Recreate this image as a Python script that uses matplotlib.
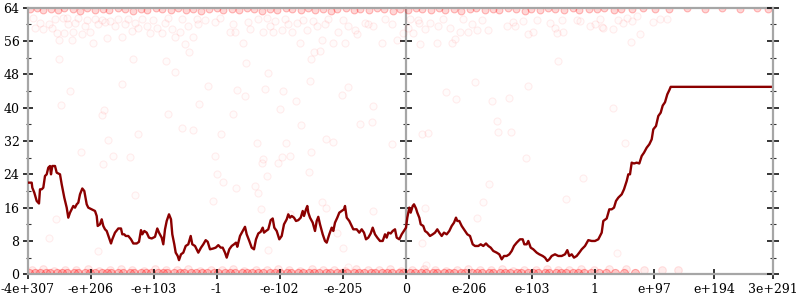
import matplotlib
matplotlib.use("Agg")
import matplotlib.pyplot as plt
from matplotlib.ticker import MultipleLocator

# ---- axis ticks (x in "bit-position" units, 0 = zero) ----
xtick_pos = [-378, -315, -252, -189, -126, -63, 0, 63, 126, 189, 248.6, 308.6, 367.6]
xtick_labels = ["-4e+307", "-e+206", "-e+103", "-1", "-e-102", "-e-205", "0",
                "e-206", "e-103", "1", "e+97", "e+194", "3e+291"]

# ---- running line ----
line_x = [-378.0, -374.0, -373.4, -371.4, -369.0, -366.7, -365.7, -364.0, -362.4, -360.7,
          -359.0, -357.4, -355.7, -354.7, -353.4, -350.7, -349.0, -345.7, -344.0, -341.4,
          -339.0, -337.4, -335.7, -334.0, -332.4, -330.7, -329.0, -327.4, -325.7, -323.4,
          -321.4, -319.0, -317.4, -314.0, -310.7, -309.0, -308.0, -305.7, -304.0, -302.4,
          -300.7, -299.0, -296.7, -294.7, -293.4, -290.7, -287.4, -284.7, -283.4, -281.4,
          -280.0, -277.4, -274.7, -272.4, -269.0, -266.7, -264.7, -263.4, -261.4, -259.0,
          -256.7, -254.0, -250.7, -248.4, -246.7, -244.0, -242.4, -240.7, -239.0, -236.7,
          -234.7, -233.4, -231.4, -230.0, -228.0, -226.7, -224.7, -222.4, -220.0, -217.4,
          -215.0, -213.4, -210.7, -207.4, -204.7, -202.4, -200.0, -198.0, -195.7, -192.4,
          -190.0, -187.4, -185.0, -183.0, -180.7, -179.0, -176.4, -174.0, -171.7, -169.7,
          -168.4, -165.7, -163.0, -160.7, -159.0, -156.4, -154.0, -151.7, -149.7, -147.4,
          -145.0, -143.0, -141.7, -139.7, -137.4, -135.0, -133.0, -131.4, -129.0, -126.4,
          -124.0, -121.7, -119.0, -117.4, -115.7, -114.0, -111.7, -109.7, -107.4, -105.0,
          -103.0, -101.7, -99.7, -98.4, -97.4, -95.7, -93.0, -90.7, -89.0, -87.4,
          -85.7, -83.0, -80.7, -79.0, -76.4, -74.0, -72.4, -70.7, -68.4, -66.4,
          -64.0, -61.7, -60.7, -59.0, -56.4, -54.0, -52.4, -49.0, -46.4, -44.0,
          -41.7, -39.7, -37.4, -35.0, -33.0, -30.7, -28.4, -25.7, -23.0, -20.7,
          -19.0, -17.4, -15.0, -13.0, -10.7, -9.0, -6.4, -4.0, -2.4, 0.3,
          1.6, 3.6, 5.0, 7.0, 8.3, 10.3, 11.6, 13.6, 15.0, 17.6,
          19.3, 21.6, 24.3, 27.0, 29.3, 31.6, 33.6, 36.0, 38.3, 41.0,
          43.6, 46.0, 48.3, 50.3, 51.6, 53.6, 56.0, 59.3, 61.6, 64.3,
          67.0, 69.3, 72.6, 75.0, 77.6, 80.3, 82.6, 85.0, 87.6, 91.0,
          93.6, 96.0, 98.3, 101.0, 103.6, 106.0, 108.3, 111.0, 114.3, 117.0,
          118.6, 121.0, 122.6, 125.0, 127.6, 131.0, 133.6, 137.0, 139.3, 141.6,
          143.6, 146.0, 149.3, 152.6, 156.0, 159.3, 161.6, 163.6, 166.0, 168.3,
          171.0, 173.6, 176.0, 179.3, 182.6, 186.0, 189.3, 192.6, 196.0, 197.6,
          201.0, 203.6, 206.0, 208.3, 210.3, 212.6, 216.0, 218.3, 221.0, 222.6,
          224.3, 226.0, 228.3, 231.0, 233.6, 236.0, 238.3, 241.0, 243.6, 246.0,
          247.6, 250.3, 252.6, 255.0, 257.0, 259.3, 261.6, 263.6, 265.0, 367.6]
line_y = [22.0, 22.0, 20.8, 19.6, 17.6, 17.0, 20.4, 20.4, 20.8, 23.6,
          24.0, 25.6, 26.0, 24.0, 26.0, 26.0, 24.4, 24.0, 21.6, 18.4,
          16.0, 13.6, 14.8, 15.6, 16.4, 16.0, 16.8, 17.2, 19.2, 20.6,
          20.0, 16.8, 16.0, 15.6, 15.2, 14.0, 11.6, 12.0, 13.2, 11.6,
          10.8, 10.4, 8.8, 7.4, 8.4, 10.0, 11.0, 11.0, 9.6, 9.6,
          9.2, 9.2, 8.4, 7.4, 7.4, 7.8, 10.6, 9.6, 10.4, 10.0,
          8.8, 8.6, 9.0, 11.0, 10.0, 8.8, 7.2, 10.8, 12.8, 14.4,
          13.2, 9.6, 7.2, 5.2, 4.4, 3.4, 4.8, 5.2, 6.8, 7.2,
          9.2, 7.2, 6.8, 5.2, 6.4, 7.2, 8.2, 7.8, 6.0, 6.2,
          6.4, 7.0, 6.4, 6.4, 5.2, 4.0, 6.0, 6.8, 7.2, 7.6,
          6.6, 9.2, 10.4, 11.4, 9.6, 8.0, 6.4, 6.0, 8.4, 9.8,
          10.2, 11.2, 10.0, 10.4, 10.8, 13.0, 13.4, 11.2, 10.4, 8.4,
          9.2, 12.0, 13.2, 14.4, 13.6, 14.0, 13.6, 12.8, 13.0, 13.6,
          15.2, 14.0, 15.6, 16.4, 14.8, 13.6, 12.4, 10.4, 12.8, 13.8,
          12.0, 9.6, 8.0, 7.6, 9.6, 11.2, 10.4, 12.4, 13.6, 14.8,
          15.2, 15.6, 16.4, 13.6, 12.8, 11.6, 10.8, 10.8, 10.0, 10.8,
          10.0, 8.4, 8.8, 9.8, 11.2, 9.6, 8.8, 8.0, 8.0, 9.6,
          8.8, 10.0, 9.8, 10.4, 10.8, 8.8, 8.4, 9.6, 10.2, 11.2,
          13.6, 16.0, 14.8, 16.4, 16.8, 15.8, 14.8, 13.6, 12.0, 11.6,
          10.4, 10.0, 9.2, 9.6, 10.0, 10.8, 10.0, 9.2, 10.0, 9.6,
          10.4, 11.6, 12.4, 13.6, 12.8, 12.8, 11.6, 10.4, 9.6, 9.2,
          7.2, 6.8, 6.8, 7.2, 6.8, 7.4, 6.8, 6.4, 5.6, 5.2,
          4.8, 3.6, 4.4, 4.4, 4.8, 5.6, 6.8, 7.6, 8.4, 8.4,
          7.2, 7.2, 8.0, 6.4, 6.0, 5.2, 4.8, 4.4, 4.0, 3.2,
          3.6, 4.4, 4.8, 4.4, 4.4, 4.8, 5.8, 4.4, 4.8, 4.0,
          4.4, 5.2, 6.0, 6.8, 8.2, 8.0, 8.0, 8.4, 10.0, 12.8,
          13.4, 15.6, 15.6, 16.0, 17.6, 18.4, 19.2, 20.4, 22.4, 24.0,
          24.0, 26.8, 26.6, 26.8, 26.6, 28.4, 29.2, 30.4, 31.2, 32.4,
          34.8, 35.6, 38.0, 38.8, 40.5, 41.3, 43.2, 44.2, 45.0, 45.0]

# ---- faint sample points: row along the top ----
top_x = [-376, -369, -363, -355, -348, -342, -333, -326, -319, -311, -303, -297, -288, -281,
         -273, -265, -259, -250, -244, -235, -228, -220, -213, -205, -197, -189, -183, -174,
         -167, -159, -152, -144, -136, -129, -120, -114, -105, -98, -91, -83, -75, -69,
         -60, -52, -46, -37, -29, -22, -13, -6, 2, 10, 16, 25, 33, 39, 48, 55,
         64, 70, 79, 87, 93, 102, 110, 119, 125, 134, 142, 149, 158, 167, 173, 183,
         191, 198, 208, 215, 226, 237, 249, 263, 281, 299, 316, 334, 351, 362]
top_y = [63.6, 63.9, 63.4, 63.8, 63.5, 64.0, 63.6, 63.3, 63.9, 63.5, 63.8, 63.4, 63.9, 63.6,
         63.3, 63.8, 63.5, 64.0, 63.6, 63.4, 63.9, 63.5, 63.8, 63.3, 63.7, 64.0, 63.5, 63.8,
         63.4, 63.9, 63.6, 63.3, 63.8, 63.5, 64.0, 63.6, 63.4, 63.9, 63.5, 63.8, 63.3, 63.7,
         64.0, 63.5, 63.8, 63.4, 63.9, 63.6, 63.3, 63.8, 63.5, 64.0, 63.6, 63.4, 63.9, 63.5,
         63.8, 63.3, 63.7, 64.0, 63.5, 63.8, 63.4, 63.9, 63.6, 63.3, 63.8, 63.5, 64.0, 63.6,
         63.4, 63.9, 63.5, 63.8, 63.7, 64.0, 63.5, 63.8, 63.6, 63.9, 63.7, 63.8, 63.9, 63.8,
         63.9, 63.8, 63.9, 63.8]

# ---- faint sample points: upper cloud and sparse middle ----
cloud_x = [-373, -371, -366, -363, -357, -354, -351, -349, -347, -343, -342, -339, -338, -334,
           -333, -331, -328, -324, -321, -319, -316, -313, -311, -308, -304, -301, -299, -296,
           -291, -288, -284, -281, -278, -274, -271, -268, -264, -259, -256, -253, -249, -244,
           -241, -238, -234, -231, -226, -224, -221, -218, -213, -209, -208, -201, -191, -186,
           -176, -173, -171, -163, -158, -156, -148, -143, -139, -136, -133, -131, -124, -121,
           -118, -114, -109, -106, -103, -99, -93, -89, -84, -81, -78, -73, -68, -63,
           -61, -58, -51, -49, -41, -38, -33, -24, -21, -14, -9, -3, 2, 7,
           12, 4, 13, 14, 19, 24, 31, 32, 37, 44, 46, 49, 54, 57,
           62, 66, 71, 76, 82, 101, 107, 109, 117, 122, 127, 131, 144, 149,
           151, 156, 157, 171, 174, 184, 189, 194, 196, 207, 197, 212, 217, 221,
           226, 231, 247, 254, 261,
           -347, -336, -345, -304, -302, -284, -273, -268, -298, -240, -231, -238, -224, -213,
           -217, -207, -160, -138, -198, -169, -161, -141, -123, -110, -96, -95, -126, -173,
           -185, -149, -120, -105, -80, -73, -64, -58, -46, -34, -33, -14, -92, -86,
           40, 50, 69, 86, 103, 122, 91, 92, 105, 16, 22, 152, 207, 234, 225, 219,
           -325, -303, -293, -276, -271, -350, -357, -308, -191, -144, -143, -128, -124, -116,
           -95, -189, -139, -183, -170, -151, -97, -193, -145, -148, -80, -33, -84, -63,
           -138, -116, -69, -58, 83, 77, 71, 19, 16, 120, 177, 160, 20, 211]
cloud_y = [61.6, 59.2, 60.4, 58.9, 60.2, 59.2, 61.3, 58.0, 56.2, 61.6, 58.0, 61.6, 60.0, 56.2,
           58.1, 60.4, 61.6, 57.6, 59.7, 61.0, 58.1, 55.6, 61.2, 60.2, 61.0, 60.5, 56.8, 60.7,
           59.6, 61.2, 57.0, 60.2, 61.3, 58.3, 60.4, 59.2, 61.2, 59.6, 58.0, 61.0, 59.2, 58.0,
           60.4, 61.6, 59.0, 57.0, 58.1, 61.2, 55.2, 59.7, 57.0, 61.2, 60.0, 61.0, 60.5, 61.6,
           58.2, 60.0, 58.2, 55.6, 60.5, 58.9, 61.2, 58.1, 61.6, 59.6, 58.1, 60.7, 58.6, 61.2,
           60.0, 58.1, 60.4, 55.6, 61.0, 58.6, 60.7, 59.6, 56.3, 60.0, 61.3, 55.6, 58.1, 61.0,
           55.6, 59.6, 58.6, 57.6, 60.4, 60.0, 59.6, 55.6, 61.2, 60.2, 56.3, 58.0, 59.2, 58.0,
           61.0, 61.2, 60.4, 55.2, 58.8, 60.4, 55.6, 59.6, 61.2, 59.2, 55.6, 56.6, 58.1, 61.2,
           58.1, 60.0, 58.6, 61.0, 58.6, 59.6, 60.5, 59.6, 60.7, 57.6, 58.2, 61.0, 60.4, 59.2,
           58.0, 61.0, 58.1, 61.0, 60.7, 59.6, 60.2, 61.2, 59.4, 59.0, 59.2, 61.0, 60.4, 61.6,
           60.7, 61.9, 60.5, 61.2, 61.3,
           51.8, 43.9, 40.7, 38.2, 39.4, 45.6, 51.6, 33.6, 32.2, 51.3, 48.5, 38.4, 35.2, 34.6,
           53.3, 40.9, 50.8, 48.4, 45.2, 44.2, 42.8, 44.5, 44.1, 41.6, 46.4, 51.8, 39.8, 38.5,
           33.6, 31.6, 31.6, 35.8, 32.5, 31.7, 43.0, 45.0, 36.0, 36.5, 40.5, 31.2, 53.4, 53.5,
           43.8, 42.0, 46.1, 41.7, 42.3, 45.2, 36.8, 34.1, 34.1, 33.6, 34.0, 51.2, 40.0, 57.7,
           55.7, 31.6,
           29.3, 26.5, 28.5, 28.2, 19.0, 13.2, 8.8, 5.6, 28.4, 26.6, 27.6, 26.8, 28.2, 28.4,
           29.3, 24.0, 23.7, 22.2, 20.6, 21.3, 24.5, 17.6, 15.6, 19.4, 16.0, 15.2, 17.3, 6.4,
           5.8, 14.4, 10.0, 1.8, 21.6, 17.3, 13.6, 16.0, 7.6, 28.0, 23.2, 18.1, 2.2, 5.2]

# ---- faint sample points: dense band along the bottom (two rows) ----
band_low_x = [-377, -371, -366, -360, -356, -349, -344, -339, -332, -328, -321, -316, -311, -304,
              -299, -295, -288, -283, -276, -272, -265, -260, -255, -248, -243, -239, -232, -226,
              -222, -215, -210, -204, -199, -192, -188, -181, -176, -171, -164, -159, -154, -148,
              -143, -136, -131, -126, -119, -115, -108, -103, -97, -92, -87, -80, -76, -69,
              -64, -59, -52, -47, -42, -35, -31, -24, -19, -14, -7, -3, 4, 9, 15, 20, 27, 31,
              38, 43, 48, 55, 59, 66, 71, 76, 83, 87, 94, 99, 104, 111, 115, 122, 127, 132,
              139, 143, 150, 155, 160, 167, 172, 178, 185, 193, 200, 209, 218, 229]
band_low_y = [0.3, 0.2, 0.3, 0.2, 0.3, 0.2, 0.3, 0.3, 0.2, 0.3, 0.2, 0.3, 0.2, 0.3,
              0.3, 0.2, 0.3, 0.2, 0.3, 0.3, 0.2, 0.3, 0.2, 0.3, 0.2, 0.3, 0.3, 0.2,
              0.3, 0.2, 0.3, 0.2, 0.3, 0.3, 0.2, 0.3, 0.2, 0.3, 0.2, 0.3, 0.3, 0.2,
              0.3, 0.2, 0.3, 0.2, 0.3, 0.3, 0.2, 0.3, 0.2, 0.3, 0.2, 0.3, 0.3, 0.2,
              0.3, 0.2, 0.3, 0.2, 0.3, 0.3, 0.2, 0.3, 0.2, 0.3, 0.2, 0.3, 0.3, 0.2, 0.3, 0.2, 0.3, 0.2,
              0.3, 0.3, 0.2, 0.3, 0.2, 0.3, 0.2, 0.3, 0.3, 0.2, 0.3, 0.2, 0.3, 0.2, 0.3, 0.3, 0.2, 0.3,
              0.2, 0.3, 0.2, 0.3, 0.3, 0.2, 0.3, 0.3, 0.2, 0.3, 0.2, 0.3, 0.2, 0.3]
band_high_x = [-374, -363, -352, -341, -330, -318, -307, -296, -285, -274, -262, -251, -240, -229,
               -218, -206, -195, -184, -173, -162, -150, -139, -128, -117, -106, -94, -83, -72,
               -61, -50, -38, -27, -16, -5, 6, 18, 29, 40, 51, 62, 74, 85, 96, 107,
               118, 130, 141, 152, 163, 175, 188, 203, 220, 238, 256, 272]
band_high_y = [1.0, 1.2, 0.9, 1.1, 1.0, 1.3, 0.9, 1.1, 1.2, 1.0, 0.9, 1.2, 1.1, 1.0,
               1.3, 0.9, 1.1, 1.0, 1.2, 0.9, 1.1, 1.0, 1.3, 1.1, 0.9, 1.2, 1.0, 1.1,
               0.9, 1.2, 1.0, 1.1, 1.3, 0.9, 1.0, 1.2, 1.1, 0.9, 1.0, 1.2, 1.1, 1.0, 1.3, 0.9,
               1.1, 1.0, 1.2, 1.1, 1.0, 1.2, 1.1, 1.3, 1.2, 1.0, 1.1, 1.0]

GRAY = "#a6a6a6"
SERIF = "DejaVu Serif"
FS = 9

fig = plt.figure(figsize=(8, 3), dpi=100)
ax = fig.add_axes([27.7 / 800, 1 - 274.3 / 300, (773.3 - 27.7) / 800, (274.3 - 7.7) / 300])


def tick_axis(a):
    for s in ["top", "bottom", "left"]:
        a.spines[s].set_visible(False)
    a.spines["right"].set_color(GRAY)
    a.spines["right"].set_linewidth(1.6)
    a.set_ylim(0, 64)
    a.yaxis.set_major_locator(MultipleLocator(8))
    a.yaxis.set_minor_locator(MultipleLocator(4))
    a.tick_params(axis="y", which="major", direction="inout", length=8.6, width=1.1,
                  color="black", labelright=False)
    a.tick_params(axis="y", which="minor", direction="inout", length=4.8, width=0.8,
                  color="#333333")


# middle zero axis (drawn beneath the data)
ax_m = ax.twinx()
tick_axis(ax_m)
ax_m.spines["right"].set_position(("data", 0))
ax_m.set_zorder(0)
ax.set_zorder(1)
ax.patch.set_visible(False)

# right axis ticks
ax_r = ax.twinx()
tick_axis(ax_r)
ax_r.set_zorder(2)

faint = dict(s=26, facecolor=(1, 0, 0, 0.015), edgecolor=(1, 0, 0, 0.065),
             linewidths=0.8, zorder=1)
band_low_style = dict(s=34, facecolor=(1, 0, 0, 0.22), edgecolor=(1, 0, 0, 0.30),
                      linewidths=0.8, zorder=1)
band_high_style = dict(s=30, facecolor=(1, 0, 0, 0.07), edgecolor=(1, 0, 0, 0.10),
                       linewidths=0.8, zorder=1)
top_style = dict(s=24, facecolor=(1, 0, 0, 0.16), edgecolor=(1, 0, 0, 0.25),
                 linewidths=0.8, zorder=1)
ax.scatter(band_high_x, band_high_y, **band_high_style)
ax.scatter(band_low_x, band_low_y, **band_low_style)
ax.scatter(cloud_x, cloud_y, **faint)
ax.scatter(top_x, top_y, **top_style)

ax.plot(line_x, line_y, color="#8b0000", lw=1.7, zorder=3)

ax.set_xlim(xtick_pos[0], xtick_pos[-1])
ax.set_ylim(0, 64)
ax.set_xticks(xtick_pos)
ax.set_xticklabels(xtick_labels, fontfamily=SERIF, fontsize=FS)
ax.yaxis.set_major_locator(MultipleLocator(8))
ax.yaxis.set_minor_locator(MultipleLocator(4))
ax.tick_params(axis="y", which="major", direction="inout", length=6.8, width=1.1,
               color="black", pad=2.5, labelsize=FS, right=False)
ax.tick_params(axis="y", which="minor", direction="inout", length=3.6, width=0.8,
               color="#333333", right=False)
ax.tick_params(axis="x", which="major", direction="inout", length=7.2, width=1.1,
               color="black", pad=3, labelsize=FS)
for lab in ax.get_yticklabels():
    lab.set_fontfamily(SERIF)

for s in ["top", "bottom", "left"]:
    ax.spines[s].set_color(GRAY)
    ax.spines[s].set_linewidth(1.6)
ax.spines["right"].set_visible(False)

fig.savefig("out.png", dpi=100)
